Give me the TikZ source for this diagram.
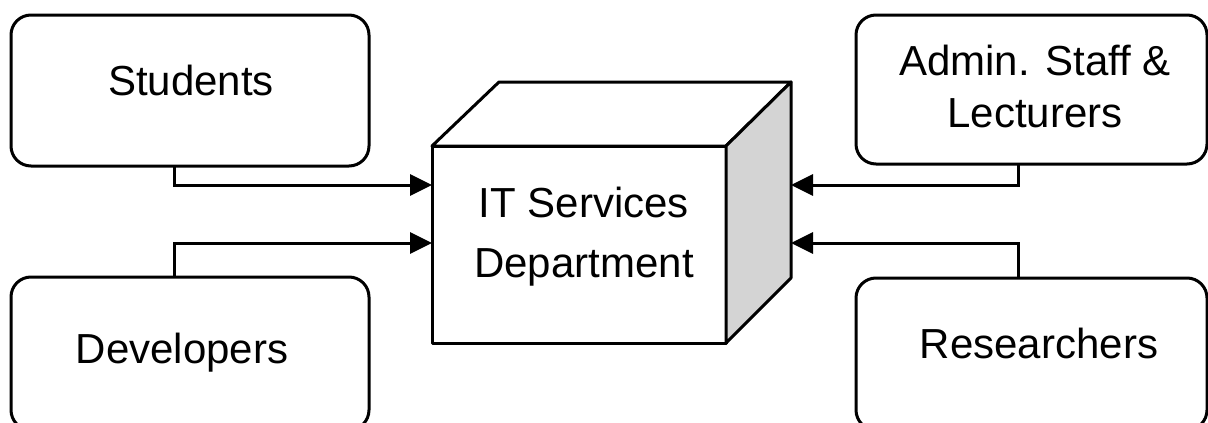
\documentclass[tikz,border=0pt]{standalone}
\usepackage{fontspec}
\setmainfont{Liberation Sans}
\usetikzlibrary{arrows.meta}
\begin{document}
\begin{tikzpicture}[x=1pt,y=-1pt,
  every node/.style={inner sep=0pt,outer sep=0pt},
  party/.style={draw=black,line width=3pt,rounded corners=20pt,fill=white},
  lbl/.style={font=\fontsize{42}{52}\selectfont,align=center},
  link/.style={draw=black,line width=3pt,-{Triangle[length=22pt,width=21pt]}},
  edge/.style={draw=black,line width=3pt,line join=round}]
\useasboundingbox (0,0) rectangle (1208,423);

% the four user groups
\node[party,minimum width=358pt,minimum height=151pt] (stud) at (190,90.5) {};
\node[party,minimum width=358pt,minimum height=153pt] (dev)  at (190,353.5) {};
\node[party,minimum width=351pt,minimum height=149pt] (adm)  at (1031.5,89.5) {};
\node[party,minimum width=351pt,minimum height=152pt] (res)  at (1031.5,354) {};

\node[lbl,anchor=base] (tstud) at (191,95) {Students};
\node[lbl,anchor=base] (tdev)  at (182,363) {Developers};
\node[lbl,anchor=base] (tres)  at (1039,358) {Researchers};
\node[lbl,anchor=base] (tadm)  at (1035,127) {Admin. Staff \&\\Lecturers};

% the department as a box in perspective
\node[edge,fill=white,minimum width=294pt,minimum height=197pt] (cube) at (579,244.5) {};
\coordinate (btl) at (499,82);
\coordinate (btr) at (791,82);
\coordinate (bbr) at (791,278);
\filldraw[edge,fill=white] (cube.north west) -- (btl) -- (btr) -- (cube.north east) -- cycle;
\filldraw[edge,fill=black!17] (cube.north east) -- (btr) -- (bbr) -- (cube.south east) -- cycle;
\node[lbl,anchor=base,font=\fontsize{42}{60}\selectfont] (tit) at (584,277) {IT Services\\Department};

% connectors
\coordinate (l1) at (174,185);
\coordinate (l2) at (174,243);
\coordinate (r1) at (1018,185);
\coordinate (r2) at (1018,243);
\draw[link] (stud.south -| l1) |- (cube.west |- l1);
\draw[link] (dev.north -| l2) |- (cube.west |- l2);
\draw[link] (adm.south -| r1) |- (btr |- r1);
\draw[link] (res.north -| r2) |- (btr |- r2);
\end{tikzpicture}
\end{document}
